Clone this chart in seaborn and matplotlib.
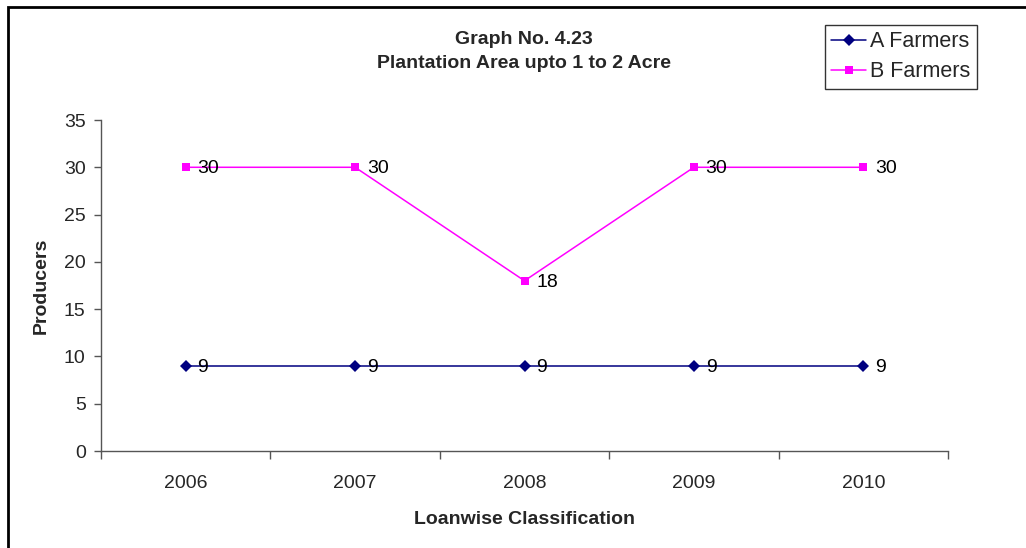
import matplotlib
matplotlib.use("Agg")
import matplotlib.pyplot as plt
from matplotlib.patches import Rectangle
import seaborn as sns
import pandas as pd

years = ["2006", "2007", "2008", "2009", "2010"]
a_farmers = [9, 9, 9, 9, 9]
b_farmers = [30, 30, 18, 30, 30]
series_names = ["A Farmers", "B Farmers"]
y_ticks = [0, 5, 10, 15, 20, 25, 30, 35]

sns.set_style("white")
plt.rcParams["font.family"] = ["Liberation Sans", "DejaVu Sans"]

df = pd.DataFrame({
    "pos": list(range(len(years))) * 2,
    "value": a_farmers + b_farmers,
    "series": [series_names[0]] * len(years) + [series_names[1]] * len(years),
})

fig = plt.figure(figsize=(10.26, 5.48), dpi=100)
ax = fig.add_axes([101 / 1026, 1 - 451 / 548, (948 - 101) / 1026, (451 - 120) / 548])

palette = {"A Farmers": "#000080", "B Farmers": "#FF00FF"}
markers = {"A Farmers": "D", "B Farmers": "s"}
sns.lineplot(data=df, x="pos", y="value", hue="series", style="series",
             palette=palette, markers=markers, dashes=False,
             markersize=6, linewidth=1.1, markeredgewidth=0, ax=ax)

# value labels to the right of every point
for vals in (a_farmers, b_farmers):
    for i, v in enumerate(vals):
        ax.annotate(str(v), (i, v), xytext=(8.5, -1), textcoords="offset points",
                    ha="left", va="center", fontsize=14, color="black")

ax.set_xlim(-0.5, len(years) - 0.5)
ax.set_ylim(0, 35)
ax.set_yticks(y_ticks)
ax.set_xticks(range(len(years)))
ax.set_xticklabels(years)
ax.set_xticks([i - 0.5 for i in range(len(years) + 1)], minor=True)
ax.tick_params(axis="x", which="major", length=0, pad=17, labelsize=14)
ax.tick_params(axis="x", which="minor", length=6, width=1, color="#555555", direction="out", bottom=True)
ax.tick_params(axis="y", length=5, width=1, color="#555555", direction="out", left=True, labelsize=14, pad=6)

for side in ("top", "right"):
    ax.spines[side].set_visible(False)
for side in ("left", "bottom"):
    ax.spines[side].set_color("#555555")
    ax.spines[side].set_linewidth(1)

ax.set_xlabel("Loanwise Classification", fontsize=14, fontweight="bold", labelpad=14)
ax.set_ylabel("Producers", fontsize=14, fontweight="bold", labelpad=10)

fig.text(524 / 1026, 1 - 39 / 548, "Graph No. 4.23", ha="center", va="center",
         fontsize=14, fontweight="bold")
fig.text(524 / 1026, 1 - 63 / 548, "Plantation Area upto 1 to 2 Acre", ha="center", va="center",
         fontsize=14, fontweight="bold")

leg = ax.legend(loc="upper left", bbox_to_anchor=(825 / 1026, 1 - 25 / 548),
                bbox_transform=fig.transFigure, fontsize=15.5, frameon=True,
                fancybox=False, edgecolor="black", handlelength=1.6,
                borderpad=0.3, labelspacing=0.4, handletextpad=0.2,
                borderaxespad=0)
leg.get_frame().set_linewidth(1)
leg.set_title(None)

# chart-area border
fig.patches.append(Rectangle((8 / 1026, -0.1), 1.2, 1 - 7 / 548 + 0.1,
                             transform=fig.transFigure, fill=False,
                             edgecolor="black", linewidth=2))

fig.savefig("out.png", dpi=100)
